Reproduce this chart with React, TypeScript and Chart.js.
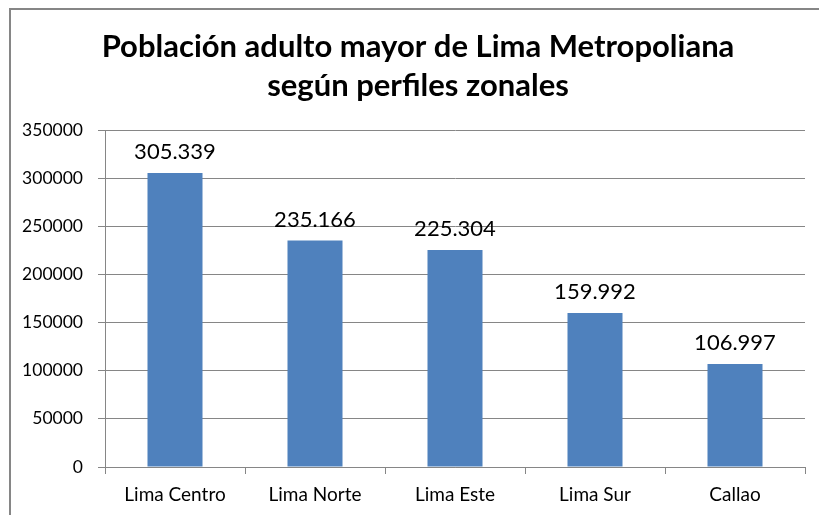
import React, { useEffect, useRef } from "react";
import { Chart, registerables } from "chart.js";

Chart.register(...registerables);

const categories = ["Lima Centro", "Lima Norte", "Lima Este", "Lima Sur", "Callao"];
const values = [305339, 235166, 225304, 159992, 106997];
const valueLabels = ["305.339", "235.166", "225.304", "159.992", "106.997"];
const titleLines = ["Población adulto mayor de Lima Metropoliana", "según perfiles zonales"];

const FONT = "Lato, 'Open Sans', sans-serif";
const GRID = "#868686";

const framePlugin = {
  id: "frameAndTitle",
  beforeDraw(chart: any) {
    const ctx = chart.ctx;
    ctx.save();
    ctx.fillStyle = "#ffffff";
    ctx.fillRect(0, 0, chart.width, chart.height);
    ctx.strokeStyle = GRID;
    ctx.lineWidth = 2;
    ctx.strokeRect(10, 9, chart.width + 20, chart.height + 20);
    ctx.fillStyle = "#000000";
    ctx.font = `bold 31px ${FONT}`;
    ctx.textAlign = "center";
    ctx.textBaseline = "middle";
    ctx.fillText(titleLines[0], 418, 47);
    ctx.fillText(titleLines[1], 418, 86);
    ctx.restore();
  },
  afterDatasetsDraw(chart: any) {
    const ctx = chart.ctx;
    const meta = chart.getDatasetMeta(0);
    ctx.save();
    ctx.fillStyle = "#000000";
    ctx.font = `22px ${FONT}`;
    ctx.textAlign = "center";
    ctx.textBaseline = "alphabetic";
    meta.data.forEach((bar: any, i: number) => {
      ctx.fillText(valueLabels[i], bar.x, bar.y - 14);
    });
    ctx.restore();
  },
};

export default function App() {
  const ref = useRef<HTMLCanvasElement | null>(null);
  useEffect(() => {
    if (!ref.current) return;
    const chart = new Chart(ref.current, {
      type: "bar",
      data: {
        labels: categories,
        datasets: [
          {
            data: values,
            backgroundColor: "#4F81BD",
            borderWidth: 0,
            categoryPercentage: 1,
            barPercentage: 0.393,
          },
        ],
      },
      options: {
        animation: false,
        responsive: false,
        maintainAspectRatio: false,
        layout: { padding: { top: 130, right: 14, left: 0, bottom: 0 } },
        plugins: {
          legend: { display: false },
          title: { display: false },
          tooltip: { enabled: false },
        },
        scales: {
          x: {
            grid: {
              display: true,
              drawOnChartArea: false,
              drawTicks: true,
              tickLength: 7,
              color: GRID,
              offset: true,
            },
            border: { display: true, color: GRID, width: 1 },
            ticks: {
              color: "#000000",
              font: { family: FONT, size: 19 },
              padding: 9,
              maxRotation: 0,
            },
            afterFit(scale: any) {
              scale.height = 48;
            },
          },
          y: {
            min: 0,
            max: 350000,
            grid: { color: GRID, tickLength: 7 },
            border: { display: true, color: GRID, width: 1 },
            ticks: {
              stepSize: 50000,
              color: "#000000",
              font: { family: FONT, size: 17.5 },
              padding: 15,
              callback: (v: any) => String(v),
            },
            afterFit(scale: any) {
              scale.width = 105;
            },
          },
        },
      },
      plugins: [framePlugin],
    });
    return () => chart.destroy();
  }, []);
  return (
    <div style={{ position: "absolute", left: 0, top: 0, width: 819, height: 515 }}>
      <canvas ref={ref} width={819} height={515} style={{ width: 819, height: 515 }} />
    </div>
  );
}
